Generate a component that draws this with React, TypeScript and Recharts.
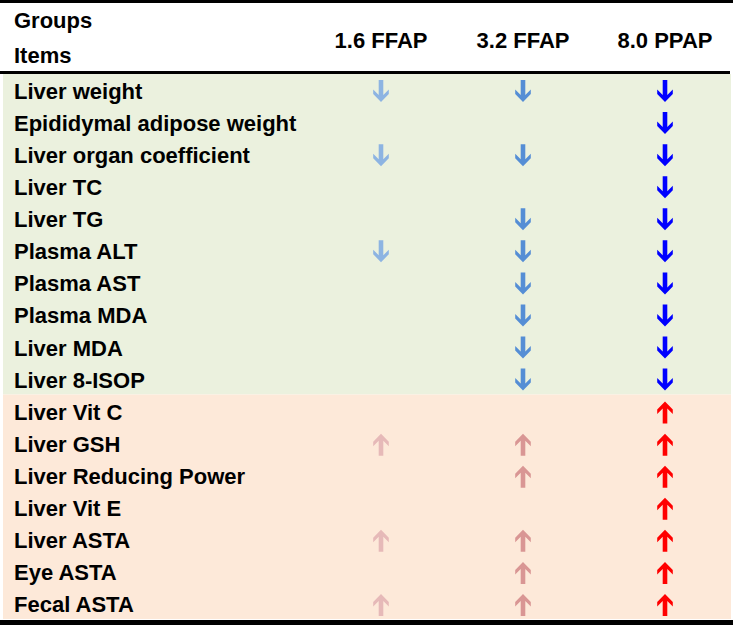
import {
  ScatterChart,
  Scatter,
  XAxis,
  YAxis,
  ReferenceArea,
  Customized,
} from "recharts";

const items = [
  "Liver weight",
  "Epididymal adipose weight",
  "Liver organ coefficient",
  "Liver TC",
  "Liver TG",
  "Plasma ALT",
  "Plasma AST",
  "Plasma MDA",
  "Liver MDA",
  "Liver 8-ISOP",
  "Liver Vit C",
  "Liver GSH",
  "Liver Reducing Power",
  "Liver Vit E",
  "Liver ASTA",
  "Eye ASTA",
  "Fecal ASTA",
];

const groups = ["1.6 FFAP", "3.2 FFAP", "8.0 PPAP"];

// -1 = decreased, 1 = increased, 0 = no change
const ffap16 = [-1, 0, -1, 0, 0, -1, 0, 0, 0, 0, 0, 1, 0, 0, 1, 0, 1];
const ffap32 = [-1, 0, -1, 0, -1, -1, -1, -1, -1, -1, 0, 1, 1, 0, 1, 1, 1];
const ppap80 = [-1, -1, -1, -1, -1, -1, -1, -1, -1, -1, 1, 1, 1, 1, 1, 1, 1];

const downColors = ["#8db4e2", "#558ed5", "#0000ff"];
const upColors = ["#e6b9b8", "#d99694", "#ff0000"];

const FONT = "'Liberation Sans', Arial, sans-serif";
const FONT_SIZE = 22;

// pixel padding around the three group columns
const PAD_LEFT = 378;
const PAD_RIGHT = 66;
const COL_STEP = 142;

const series = [ffap16, ffap32, ppap80].map((vals, g) =>
  vals
    .map((dir, i) => ({ x: g + 1, y: i + 1, dir }))
    .filter((d) => d.dir !== 0)
);

function Arrow(props: any) {
  const { cx, cy, payload, group } = props;
  if (cx == null || cy == null) return null;
  const up = payload.dir > 0;
  const color = up ? upColors[group] : downColors[group];
  const s = up ? -1 : 1;
  const c = up ? cy + 2 : cy + 1;
  const T = c - 11 * s;
  const B = c + 11 * s;
  const d = [
    `M${cx - 2.3},${T}`,
    `L${cx + 2.3},${T}`,
    `L${cx + 2.3},${B - 7 * s}`,
    `L${cx + 7.8},${B - 12.5 * s}`,
    `L${cx + 7.8},${B - 8 * s}`,
    `L${cx},${B}`,
    `L${cx - 7.8},${B - 8 * s}`,
    `L${cx - 7.8},${B - 12.5 * s}`,
    `L${cx - 2.3},${B - 7 * s}`,
    "Z",
  ].join(" ");
  return <path d={d} fill={color} />;
}

const renderItemTick = (props: any) => (
  <text
    key={props.index}
    x={14}
    y={props.y + 9}
    fontSize={FONT_SIZE}
    fontWeight="bold"
    fontFamily={FONT}
    fill="#000"
  >
    {items[props.payload.value - 1]}
  </text>
);

const renderGroupTick = (props: any) => (
  <text
    key={props.index}
    x={props.x}
    y={48}
    textAnchor="middle"
    fontSize={FONT_SIZE}
    fontWeight="bold"
    fontFamily={FONT}
    fill="#000"
  >
    {groups[props.payload.value - 1]}
  </text>
);

function Frame() {
  return (
    <g>
      <rect x={0} y={0} width={733} height={3} fill="#000" />
      <rect x={0} y={71} width={730} height={3} fill="#000" />
      <rect x={0} y={620} width={733} height={5} fill="#000" />
      <text x={14} y={28} fontSize={FONT_SIZE} fontWeight="bold" fontFamily={FONT} fill="#000">
        Groups
      </text>
      <text x={14} y={63} fontSize={FONT_SIZE} fontWeight="bold" fontFamily={FONT} fill="#000">
        Items
      </text>
    </g>
  );
}

export default function App() {
  const xMin = 1 - PAD_LEFT / COL_STEP;
  const xMax = 3 + PAD_RIGHT / COL_STEP;
  return (
    <div style={{ width: 733, height: 627, background: "#fff" }}>
      <style>{"body{margin:0}"}</style>
      <ScatterChart
        width={733}
        height={627}
        margin={{ top: 73, right: 2, bottom: 8, left: 2 }}
      >
        <XAxis
          type="number"
          dataKey="x"
          orientation="top"
          domain={[1, 3]}
          ticks={[1, 2, 3]}
          padding={{ left: PAD_LEFT, right: PAD_RIGHT }}
          height={1}
          axisLine={false}
          tickLine={false}
          tick={renderGroupTick}
        />
        <YAxis
          type="number"
          dataKey="y"
          domain={[0.5, 17.5]}
          ticks={items.map((_, i) => i + 1)}
          interval={0}
          reversed
          width={1}
          axisLine={false}
          tickLine={false}
          tick={renderItemTick}
        />
        <ReferenceArea
          x1={xMin}
          x2={xMax}
          y1={0.5}
          y2={10.5}
          ifOverflow="visible"
          fill="#ebf1de"
          fillOpacity={1}
          stroke="none"
        />
        <ReferenceArea
          x1={xMin}
          x2={xMax}
          y1={10.5}
          y2={17.5}
          ifOverflow="visible"
          fill="#fde9d9"
          fillOpacity={1}
          stroke="none"
        />
        {series.map((data, g) => (
          <Scatter
            key={groups[g]}
            data={data}
            isAnimationActive={false}
            shape={(p: any) => <Arrow {...p} group={g} />}
          />
        ))}
        <Customized component={Frame} />
      </ScatterChart>
    </div>
  );
}
